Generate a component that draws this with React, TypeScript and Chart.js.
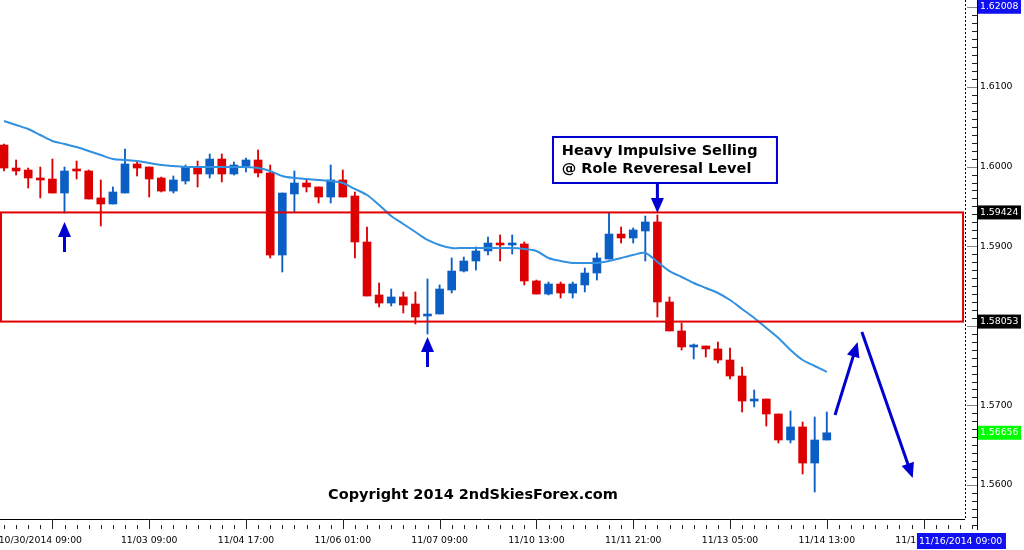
import React, { useEffect, useRef } from "react";
import { Chart, registerables } from "chart.js";

Chart.register(...registerables);

// ---- Data (GBPUSD 4H) ----
const OPEN = [1.60271,1.59982,1.59957,1.59857,1.59844,1.59668,1.59957,1.59945,1.59606,1.5953,
1.59668,1.60033,1.59995,1.59857,1.59693,1.59819,1.59995,1.59907,1.60095,1.59907,
1.60008,1.60083,1.5992,1.58889,1.59656,1.59794,1.59744,1.59618,1.59832,1.59631,
1.59053,1.58387,1.58286,1.58362,1.58274,1.58123,1.58148,1.5845,1.58688,1.58814,
1.5894,1.5904,1.59015,1.59028,1.58563,1.58399,1.58525,1.58412,1.58513,1.58663,
1.58839,1.59153,1.59103,1.59191,1.59304,1.58299,1.57935,1.57734,1.57746,1.57709,
1.5757,1.57369,1.57055,1.5708,1.56892,1.56565,1.56729,1.56276,1.56565];
const HIGH = [1.60284,1.60083,1.59982,1.59995,1.60095,1.59995,1.6007,1.59957,1.59832,1.59744,
1.60221,1.60058,1.59995,1.59869,1.59882,1.6002,1.6007,1.60158,1.60158,1.60058,
1.60108,1.60209,1.6002,1.59668,1.59945,1.59832,1.59744,1.6002,1.59957,1.59681,
1.59241,1.58538,1.58462,1.58425,1.58425,1.58588,1.58513,1.58852,1.58864,1.5899,
1.59116,1.59141,1.59141,1.59053,1.58575,1.5855,1.5855,1.5855,1.58726,1.58915,
1.59417,1.59241,1.59229,1.59379,1.59392,1.58362,1.58035,1.57771,1.57746,1.57796,
1.57721,1.57482,1.57193,1.5708,1.56892,1.5693,1.56791,1.56854,1.56917];
const LOW = [1.59945,1.59894,1.59731,1.59606,1.59668,1.59417,1.59844,1.59593,1.59254,1.5953,
1.59668,1.59882,1.59618,1.59681,1.59668,1.59781,1.59744,1.59857,1.59807,1.59894,
1.59932,1.59869,1.58852,1.58676,1.5943,1.59681,1.59543,1.59543,1.59618,1.58852,
1.58374,1.58236,1.58249,1.58161,1.58023,1.57897,1.58148,1.58412,1.58676,1.58701,
1.58889,1.58814,1.58902,1.58513,1.58399,1.58387,1.58349,1.58349,1.58425,1.58575,
1.58839,1.5904,1.5904,1.58814,1.58111,1.57935,1.57696,1.57583,1.57608,1.57533,
1.57332,1.56917,1.5698,1.56741,1.56528,1.56528,1.56138,1.55912,1.56565];
const CLOSE = [1.59982,1.59945,1.59857,1.59832,1.59668,1.59945,1.59945,1.59593,1.5953,1.59681,
1.60033,1.59982,1.59844,1.59693,1.59832,1.59995,1.59907,1.60095,1.59907,1.6002,
1.60083,1.5992,1.58889,1.59668,1.59794,1.59744,1.59618,1.59832,1.59618,1.59053,
1.58374,1.58286,1.58362,1.58261,1.58111,1.58148,1.58462,1.58688,1.58814,1.5894,
1.5904,1.59015,1.59028,1.58563,1.58399,1.58525,1.58412,1.58525,1.58663,1.58852,
1.59153,1.59103,1.59204,1.59304,1.58299,1.57935,1.57734,1.57746,1.57709,1.5757,
1.57369,1.57055,1.57068,1.56892,1.56565,1.56729,1.56276,1.56565,1.56656];
const MA = [1.60573,1.60523,1.60472,1.60397,1.60322,1.60284,1.60246,1.60196,1.60146,1.60095,
1.60083,1.6007,1.60045,1.6002,1.60008,1.59995,1.59995,1.59995,1.59995,1.59995,
1.59995,1.59982,1.59945,1.59882,1.59857,1.59844,1.59832,1.59819,1.59794,1.59719,
1.59643,1.59518,1.59379,1.59279,1.59178,1.59078,1.59015,1.58977,1.58977,1.58977,
1.58977,1.58977,1.58977,1.58965,1.5894,1.58852,1.58814,1.58789,1.58789,1.58789,
1.58814,1.58852,1.58889,1.58915,1.58802,1.58688,1.58613,1.58538,1.58475,1.58412,
1.58324,1.58211,1.58098,1.57972,1.57847,1.57696,1.5757,1.57495,1.5742];

const X_LABELS = ["10/30/2014 09:00","11/03 09:00","11/04 17:00","11/06 01:00","11/07 09:00","11/10 13:00","11/11 21:00","11/13 05:00","11/14 13:00","11/17 21:00"];
const X_LABEL_POS = [3.0,12,20,28,36,44,52,60,68,76];
const X_MAJOR_FIRST = 4;
const X_MAJOR_STEP = 8;
const Y_TICKS = [1.56,1.57,1.58,1.59,1.60,1.61];

const X_MIN = -0.3306, X_MAX = 80.413;
const Y_MIN = 1.55447, Y_MAX = 1.62093;

const ZONE_TOP = 1.59424, ZONE_BOTTOM = 1.58053;
const ZONE_FROM = -0.25, ZONE_TO = 79.26;

const PRICE_TAGS = [
  { value: 1.62008, bg: "#1010f0" },
  { value: 1.59424, bg: "#000000" },
  { value: 1.58053, bg: "#000000" },
  { value: 1.56656, bg: "#00ff00" },
];
const DATE_TAG = "11/16/2014 09:00";
const DATE_TAG_BAR = 75.45;

const ARROWS = [
  { x1: 5, y1: 1.58927, x2: 5, y2: 1.59304 },
  { x1: 35, y1: 1.57482, x2: 35, y2: 1.57859 },
  { x1: 54, y1: 1.59794, x2: 54, y2: 1.59417 },
  { x1: 68.68, y1: 1.56879, x2: 70.55, y2: 1.57796 },
  { x1: 70.9, y1: 1.57922, x2: 75.1, y2: 1.56088 },
];
const CALLOUT = { from: 45.37, to: 63.88, top: 1.60372, bottom: 1.59794, textBar: 46.1 };
const CALLOUT_LINES = [
  { text: "Heavy Impulsive Selling", price: 1.60196 },
  { text: "@ Role Reveresal Level", price: 1.5997 },
];
const COPYRIGHT = { text: "Copyright 2014 2ndSkiesForex.com", bar: 38.76, price: 1.55874 };

const RED = "#dc0000";
const BLUE = "#0b5fc4";
const ARROW_BLUE = "#0000d0";
const AXIS_FONT = { family: "'DejaVu Sans'", size: 9.3 };

function drawArrow(ctx: CanvasRenderingContext2D, x1: number, y1: number, x2: number, y2: number) {
  const ang = Math.atan2(y2 - y1, x2 - x1);
  const hl = 15, hw = 6.5;
  const bx = x2 - hl * Math.cos(ang), by = y2 - hl * Math.sin(ang);
  ctx.beginPath();
  ctx.moveTo(x1, y1);
  ctx.lineTo(bx + 1 * Math.cos(ang), by + 1 * Math.sin(ang));
  ctx.stroke();
  ctx.beginPath();
  ctx.moveTo(x2, y2);
  ctx.lineTo(bx + hw * Math.sin(ang), by - hw * Math.cos(ang));
  ctx.lineTo(bx - hw * Math.sin(ang), by + hw * Math.cos(ang));
  ctx.closePath();
  ctx.fill();
}

const overlayPlugin = {
  id: "overlay",
  beforeDraw(chart: any) {
    const ctx = chart.ctx;
    ctx.save();
    ctx.fillStyle = "#ffffff";
    ctx.fillRect(0, 0, chart.width, chart.height);
    ctx.restore();
  },
  afterDatasetsDraw(chart: any) {
    const ctx: CanvasRenderingContext2D = chart.ctx;
    const xs = chart.scales.x, ys = chart.scales.y;
    const X = (v: number) => xs.getPixelForValue(v);
    const Y = (v: number) => ys.getPixelForValue(v);
    ctx.save();
    // zone
    ctx.strokeStyle = "#e00000";
    ctx.lineWidth = 2;
    ctx.strokeRect(X(ZONE_FROM), Y(ZONE_TOP), X(ZONE_TO) - X(ZONE_FROM), Y(ZONE_BOTTOM) - Y(ZONE_TOP));
    // callout
    const bx = X(CALLOUT.from), by = Y(CALLOUT.top);
    const bw = X(CALLOUT.to) - bx, bh = Y(CALLOUT.bottom) - by;
    ctx.fillStyle = "#ffffff";
    ctx.fillRect(bx, by, bw, bh);
    ctx.strokeStyle = ARROW_BLUE;
    ctx.lineWidth = 2;
    ctx.strokeRect(bx, by, bw, bh);
    ctx.fillStyle = "#000";
    ctx.font = "bold 14.5px 'DejaVu Sans'";
    ctx.textBaseline = "middle";
    ctx.textAlign = "left";
    for (const l of CALLOUT_LINES) ctx.fillText(l.text, X(CALLOUT.textBar), Y(l.price));
    // arrows
    ctx.strokeStyle = ARROW_BLUE;
    ctx.fillStyle = ARROW_BLUE;
    ctx.lineWidth = 3;
    for (const a of ARROWS) drawArrow(ctx, X(a.x1), Y(a.y1), X(a.x2), Y(a.y2));
    // copyright
    ctx.fillStyle = "#000";
    ctx.font = "bold 14.5px 'DejaVu Sans'";
    ctx.textAlign = "center";
    ctx.fillText(COPYRIGHT.text, X(COPYRIGHT.bar), Y(COPYRIGHT.price));
    ctx.restore();
  },
  afterDraw(chart: any) {
    const ctx: CanvasRenderingContext2D = chart.ctx;
    const xs = chart.scales.x, ys = chart.scales.y;
    const ca = chart.chartArea;
    ctx.save();
    const innerBottom = ca.bottom - 10;
    const innerRight = ca.right - 12;
    // inner bottom line
    ctx.strokeStyle = "#000";
    ctx.lineWidth = 1;
    ctx.beginPath();
    ctx.moveTo(0, innerBottom + 0.5);
    ctx.lineTo(innerRight, innerBottom + 0.5);
    ctx.stroke();
    // dashed shift line
    ctx.setLineDash([2, 2]);
    ctx.beginPath();
    ctx.moveTo(innerRight + 0.5, 0);
    ctx.lineTo(innerRight + 0.5, innerBottom);
    ctx.stroke();
    ctx.setLineDash([]);
    // x ticks
    ctx.strokeStyle = "#222";
    for (let i = 0; i <= Math.floor(X_MAX); i++) {
      const x = Math.round(xs.getPixelForValue(i)) + 0.5;
      if (x > ca.right) break;
      const major = (i - X_MAJOR_FIRST) % X_MAJOR_STEP === 0;
      ctx.beginPath();
      ctx.moveTo(x, major ? innerBottom : ca.bottom - 4);
      ctx.lineTo(x, ca.bottom);
      ctx.stroke();
    }
    // y ticks
    for (let k = 1555; k <= 1620; k++) {
      const y = Math.round(ys.getPixelForValue(k / 1000)) + 0.5;
      const major = k % 10 === 0;
      ctx.strokeStyle = major ? "#888" : "#222";
      ctx.beginPath();
      ctx.moveTo(ca.right - (major ? 10 : 5), y);
      ctx.lineTo(ca.right, y);
      ctx.stroke();
    }
    // price tags
    ctx.font = "9.3px 'DejaVu Sans'";
    ctx.textBaseline = "middle";
    ctx.textAlign = "left";
    for (const t of PRICE_TAGS) {
      const y = ys.getPixelForValue(t.value);
      ctx.fillStyle = t.bg;
      ctx.fillRect(ca.right + 1, y - 7, 43, 14);
      ctx.fillStyle = "#ffffff";
      ctx.fillText(t.value.toFixed(5), ca.right + 3, y);
    }
    // date tag
    const dx = xs.getPixelForValue(DATE_TAG_BAR);
    ctx.fillStyle = "#1010f0";
    ctx.fillRect(dx, ca.bottom + 4, 89, 16);
    ctx.fillStyle = "#ffffff";
    ctx.fillText(DATE_TAG, dx + 2, ca.bottom + 12.5);
    ctx.restore();
  },
};

export default function App() {
  const ref = useRef<HTMLCanvasElement | null>(null);
  useEffect(() => {
    document.body.style.margin = "0";
    const canvas = ref.current!;
    const idx = OPEN.map((_, i) => i);
    const bull = idx.map((i) => CLOSE[i] >= OPEN[i]);
    const chart = new Chart(canvas, {
      type: "bar",
      data: {
        datasets: [
          {
            type: "line",
            label: "MA",
            data: idx.map((i) => ({ x: i, y: MA[i] })),
            borderColor: "#3290e0",
            borderWidth: 2,
            pointRadius: 0,
            tension: 0.3,
            order: 0,
          } as any,
          {
            label: "Body",
            data: idx.map((i) => ({ x: i, y: [OPEN[i], CLOSE[i]] })),
            backgroundColor: idx.map((i) => (bull[i] ? BLUE : RED)),
            borderWidth: 0,
            barThickness: 8,
            minBarLength: 2,
            grouped: false,
            order: 1,
          } as any,
          {
            label: "Wick",
            data: idx.map((i) => ({ x: i, y: [LOW[i], HIGH[i]] })),
            backgroundColor: idx.map((i) => (bull[i] ? BLUE : RED)),
            borderWidth: 0,
            barThickness: 1.2,
            grouped: false,
            order: 2,
          } as any,
        ],
      },
      options: {
        responsive: false,
        animation: false,
        devicePixelRatio: 1,
        layout: { padding: 0 },
        plugins: { legend: { display: false }, tooltip: { enabled: false } },
        scales: {
          x: {
            type: "linear",
            min: X_MIN,
            max: X_MAX,
            offset: false,
            grid: { display: false, drawTicks: false },
            border: { display: false },
            ticks: {
              autoSkip: false,
              maxRotation: 0,
              minRotation: 0,
              padding: 6,
              color: "#000",
              font: AXIS_FONT,
              callback: (_v: any, i: number) => X_LABELS[i],
            },
            afterBuildTicks: (s: any) => {
              s.ticks = X_LABEL_POS.map((v) => ({ value: v }));
            },
            afterFit: (s: any) => {
              s.height = 21;
              s.paddingLeft = 0;
              s.paddingRight = 0;
            },
          },
          y: {
            position: "right",
            min: Y_MIN,
            max: Y_MAX,
            grid: { display: false, drawTicks: false },
            border: { display: true, color: "#000", width: 1 },
            ticks: {
              autoSkip: false,
              padding: 3,
              color: "#000",
              font: AXIS_FONT,
              callback: (v: any) => Number(v).toFixed(4),
            },
            afterBuildTicks: (s: any) => {
              s.ticks = Y_TICKS.map((v) => ({ value: v }));
            },
            afterFit: (s: any) => {
              s.width = 47;
              s.paddingTop = 0;
              s.paddingBottom = 0;
            },
          },
        },
      } as any,
      plugins: [overlayPlugin],
    });
    return () => chart.destroy();
  }, []);
  return <canvas ref={ref} width={1024} height={550} style={{ display: "block" }} />;
}
